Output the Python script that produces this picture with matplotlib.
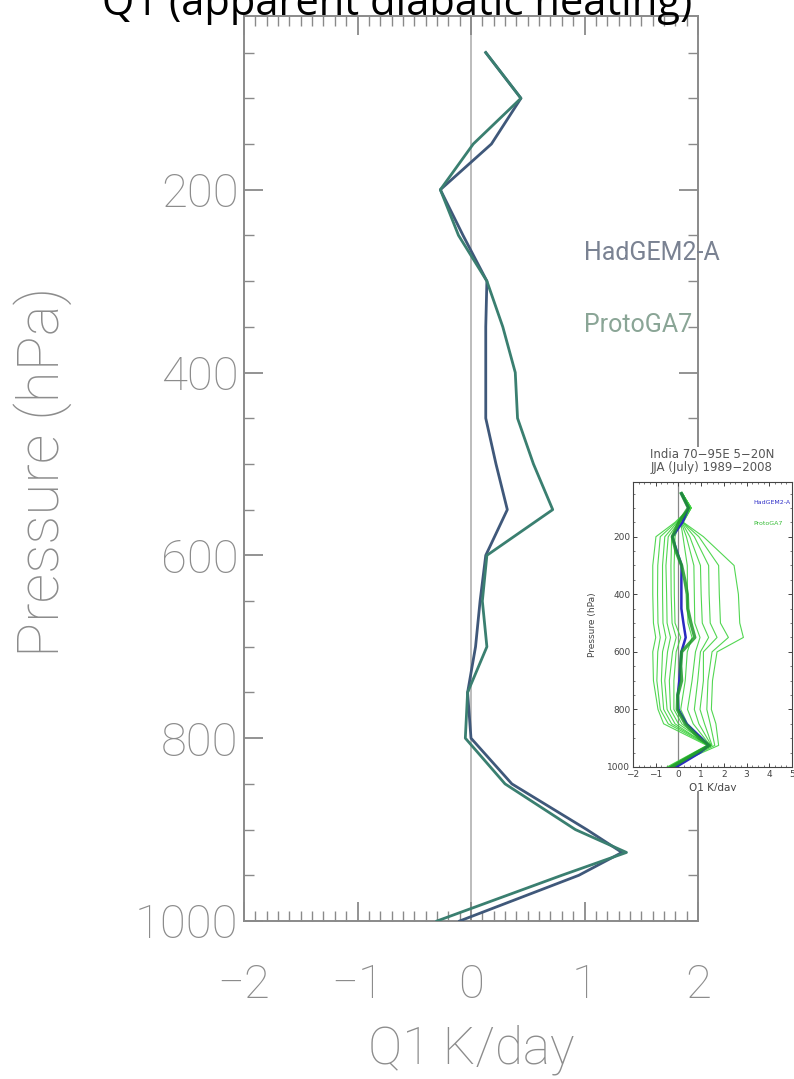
import matplotlib
matplotlib.use("Agg")
import matplotlib.pyplot as plt
from matplotlib.patches import Rectangle
from matplotlib.ticker import MultipleLocator

# pressure levels (hPa) and Q1 profiles (K/day)
levels = [50, 100, 150, 200, 250, 300, 350, 400, 450, 500, 550,
          600, 650, 700, 750, 800, 850, 900, 925, 950, 1000]
hadgem = [0.13, 0.44, 0.18, -0.27, -0.07, 0.14, 0.13, 0.13, 0.13, 0.22, 0.32,
          0.13, 0.08, 0.04, -0.03, 0.00, 0.36, 1.02, 1.33, 0.95, -0.10]
protoga = [0.13, 0.44, 0.02, -0.27, -0.11, 0.14, 0.28, 0.39, 0.41, 0.55, 0.72,
           0.14, 0.10, 0.14, -0.03, -0.05, 0.30, 0.92, 1.37, 0.80, -0.30]

# ensemble members shown in the small inset
member_levels = [50, 100, 150, 200, 300, 400, 500, 550, 600, 700, 800, 850, 925, 1000]
members = [
    [0.17, 0.50, -0.15, -0.99, -1.13, -1.13, -1.10, -1.00, -1.13, -1.10, -0.90, -0.65, 1.25, -0.50],
    [0.17, 0.50, -0.10, -0.80, -0.91, -0.92, -0.90, -0.80, -0.91, -0.95, -0.80, -0.45, 1.30, -0.45],
    [0.17, 0.52, -0.05, -0.60, -0.70, -0.70, -0.68, -0.55, -0.70, -0.75, -0.65, -0.30, 1.35, -0.40],
    [0.17, 0.52, 0.00, -0.45, -0.55, -0.52, -0.50, -0.35, -0.48, -0.60, -0.50, -0.15, 1.30, -0.30],
    [0.17, 0.54, 0.05, -0.30, -0.33, -0.32, -0.28, -0.10, -0.26, -0.40, -0.35, 0.00, 1.40, -0.25],
    [0.17, 0.54, 0.05, -0.15, -0.19, -0.18, -0.15, 0.10, -0.10, -0.20, -0.20, 0.15, 1.35, -0.15],
    [0.17, 0.54, 0.10, 0.20, 0.39, 0.40, 0.42, 0.60, 0.39, 0.30, 0.10, 0.40, 1.30, -0.10],
    [0.17, 0.54, 0.12, 0.35, 0.68, 0.70, 0.72, 0.95, 0.75, 0.60, 0.40, 0.65, 1.40, -0.20],
    [0.17, 0.56, 0.15, 0.50, 0.97, 1.00, 1.05, 1.33, 0.97, 0.85, 0.70, 0.90, 1.45, -0.25],
    [0.17, 0.56, 0.18, 0.70, 1.33, 1.35, 1.40, 1.70, 1.10, 1.10, 0.95, 1.15, 1.48, -0.35],
    [0.17, 0.56, 0.20, 0.90, 1.77, 1.80, 1.85, 2.20, 1.48, 1.30, 1.25, 1.40, 1.60, -0.30],
    [0.17, 0.56, 0.22, 1.10, 2.45, 2.64, 2.70, 2.86, 1.70, 1.50, 1.45, 1.65, 1.77, -0.40],
]

W, H = 794, 1079
gray = '#8c8c8c'
fam = ['Roboto', 'DejaVu Sans']

fig = plt.figure(figsize=(W / 100, H / 100), dpi=100)
fig.patch.set_facecolor('white')

# main panel
ax = fig.add_axes([244 / W, 1 - 921 / H, 454 / W, 905 / H])
ax.axvline(0, color='#b0b0b0', lw=1.2, zorder=1)
ax.plot(hadgem, levels, color='#3f587a', lw=2.0, zorder=3)
ax.plot(protoga, levels, color='#3a7f70', lw=2.0, zorder=3)
ax.set_xlim(-2, 2)
ax.set_ylim(1000, 10)
ax.set_xticks([-2, -1, 0, 1, 2])
ax.set_yticks([200, 400, 600, 800, 1000])
ax.xaxis.set_minor_locator(MultipleLocator(0.1))
ax.yaxis.set_minor_locator(MultipleLocator(50))
ax.tick_params(which='both', direction='in', top=True, right=True, color='#8a8a8a',
               labelcolor=gray, labelsize=34)
ax.tick_params(which='major', length=14, width=1.3)
ax.tick_params(which='minor', length=7, width=1.0)
ax.tick_params(axis='x', pad=30)
ax.tick_params(axis='y', pad=4)
for lab in ax.get_xticklabels() + ax.get_yticklabels():
    lab.set_family(fam)
    lab.set_fontweight('light')
for s in ax.spines.values():
    s.set_color('#8a8a8a')
    s.set_linewidth(1.4)

xlab = ax.set_xlabel('Q1 K/day', fontsize=37, color=gray, family=fam, fontweight='light')
xlab.set_va('center')
ax.xaxis.set_label_coords(0.5, (921 - 1050) / 905)
ylab = ax.set_ylabel('Pressure (hPa)', fontsize=42, color=gray, family=fam, fontweight='light')
ylab.set_va('center')
ax.yaxis.set_label_coords((43 - 244) / 454, (921 - 472) / 905)

ax.text(1.0, 269, 'HadGEM2-A', fontsize=18, color='#7a8292', family=fam,
        va='center', ha='left', zorder=4)
ax.text(1.0, 348, 'ProtoGA7', fontsize=18, color='#8aa596', family=fam,
        va='center', ha='left', zorder=4)

fig.text(0.5, 1 - 15 / H, 'Q1 (apparent diabatic heating)', ha='center', va='baseline',
         fontsize=30, family=['Open Sans', 'DejaVu Sans'], color='black')

# inset picture with its white backing
bg = Rectangle((578 / W, 1 - 791 / H), 216 / W, 344 / H, transform=fig.transFigure,
               facecolor='white', edgecolor='none', zorder=1)
fig.add_artist(bg)

ins = fig.add_axes([633 / W, 1 - 767 / H, 159 / W, 285 / H])
ins.set_zorder(2)
ins.axvline(0, color='#888888', lw=0.9, zorder=1)
for m in members:
    ins.plot(m, member_levels, color='#3fd23f', lw=0.8, alpha=0.9, zorder=2)
ins.plot(hadgem, levels, color='#2a2ac0', lw=1.8, zorder=3)
ins.plot(protoga, levels, color='#1f9a2a', lw=2.4, alpha=0.85, zorder=4)
ins.set_xlim(-2, 5)
ins.set_ylim(1000, 10)
ins.set_xticks(range(-2, 6))
ins.set_yticks([200, 400, 600, 800, 1000])
ins.xaxis.set_minor_locator(MultipleLocator(0.25))
ins.yaxis.set_minor_locator(MultipleLocator(50))
ins.tick_params(which='both', direction='in', top=True, right=True, color='#444444',
                labelcolor='#444444', labelsize=6.5, pad=2)
ins.tick_params(which='major', length=3, width=0.7)
ins.tick_params(which='minor', length=1.5, width=0.5)
for s in ins.spines.values():
    s.set_color('#444444')
    s.set_linewidth(0.8)
ins.set_ylabel('Pressure (hPa)', fontsize=6.5, color='#444444', labelpad=7)
xl = ins.set_xlabel('Q1 K/day', fontsize=7.5, color='#444444', labelpad=3)
xl.set_clip_path(bg)
ins.text(3.3, 80, 'HadGEM2-A', fontsize=4.5, color='#3030c8', ha='left', va='center')
ins.text(3.3, 155, 'ProtoGA7', fontsize=4.5, color='#33bb33', ha='left', va='center')

fig.text(712 / W, 1 - 455 / H, 'India 70\u221295E 5\u221220N', ha='center', va='center',
         fontsize=8.5, color='#555555', zorder=3)
fig.text(712 / W, 1 - 467 / H, 'JJA (July) 1989\u22122008', ha='center', va='center',
         fontsize=8.5, color='#555555', zorder=3)

fig.savefig('out.png', dpi=100, facecolor='white')
